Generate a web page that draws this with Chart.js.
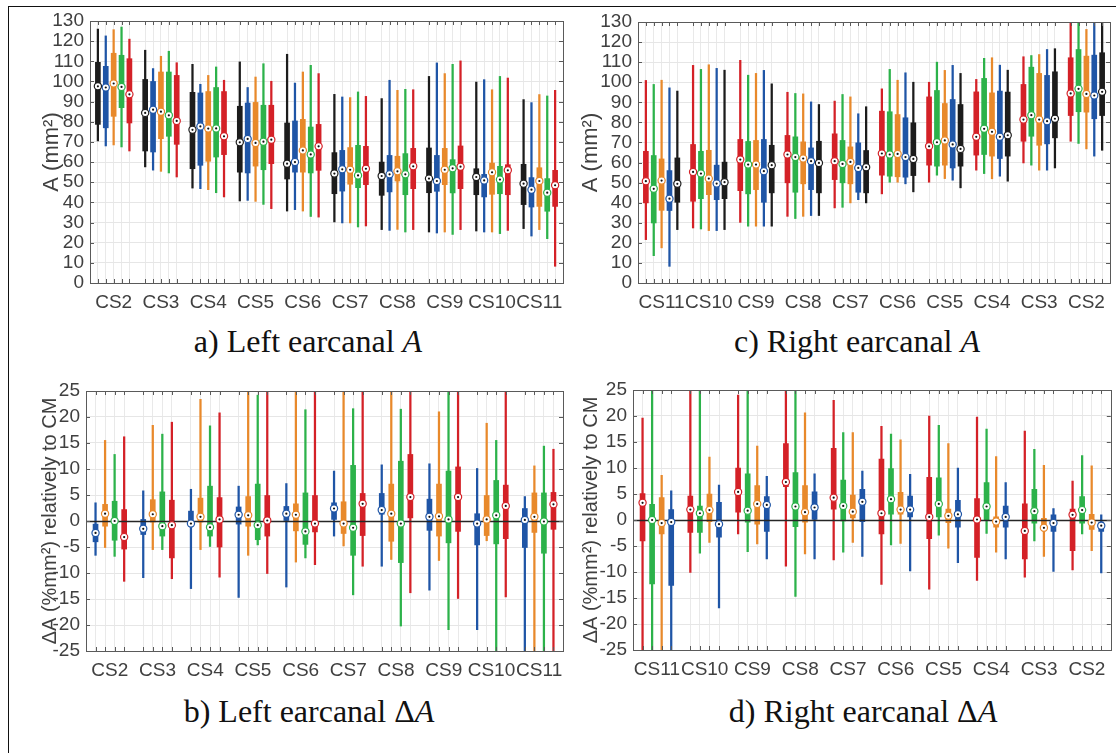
<!DOCTYPE html>
<html>
<head>
<meta charset="utf-8">
<script src="https://cdn.jsdelivr.net/npm/chart.js@4.4.1/dist/chart.umd.min.js"></script>
<style>
html, body { margin: 0; padding: 0; background: #fff; }
body { width: 1116px; height: 753px; position: relative; overflow: hidden; }
#frame { position: absolute; left: 8px; top: 6px; width: 1200px; height: 800px;
  border-left: 1.5px solid #111; border-top: 1.5px solid #111; }
canvas { position: absolute; }
.cap { position: absolute; font-family: "Liberation Serif", "Times New Roman", serif;
  font-size: 32px; line-height: 1; color: #111; transform: translateX(-50%); white-space: nowrap; }
</style>
</head>
<body>
<div id="frame"></div>
<canvas id="pa" width="575" height="320" style="left:0;top:0"></canvas>
<canvas id="pc" width="568" height="320" style="left:548px;top:0"></canvas>
<canvas id="pb" width="575" height="320" style="left:0;top:370px"></canvas>
<canvas id="pd" width="568" height="320" style="left:548px;top:370px"></canvas>
<div class="cap" style="left:308px;top:325px">a) Left earcanal <i>A</i></div>
<div class="cap" style="left:857px;top:325px">c) Right earcanal <i>A</i></div>
<div class="cap" style="left:309px;top:695px">b) Left earcanal Δ<i>A</i></div>
<div class="cap" style="left:863px;top:695px">d) Right earcanal Δ<i>A</i></div>
<script>
// groupes (ordre d'affichage)
const leftGroups = ['CS2', 'CS3', 'CS4', 'CS5', 'CS6', 'CS7', 'CS8', 'CS9', 'CS10', 'CS11'];
const rightGroups = ['CS11', 'CS10', 'CS9', 'CS8', 'CS7', 'CS6', 'CS5', 'CS4', 'CS3', 'CS2'];

// chaque boite : [moustache basse, q1, mediane, q3, moustache haute]
// a) Left earcanal A
const aBlack = [[70.5,78.7,97.6,109.5,126],[57.6,65.5,84.4,101,115.5],[47.1,56.7,76,94.6,108.5],[40.7,55,69.8,87.7,109.7],[35.7,51.6,59.2,79.4,113.5],[30.3,44.3,54.3,64.7,93.6],[26.5,43.5,53.1,60,91.5],[25.3,44.8,51.8,67,102.5],[25.8,43.8,52.6,56.7,99.7],[27,38.9,49.3,58.9,91]];
const aBlue = [[68,77,97,107.5,122.6],[56,65,86,100,106.4],[46.8,58.4,77.7,94.3,98.6],[41,54.6,71.5,89.3,97],[36.4,55,60,80.4,99.2],[29.8,45.6,56.4,65.8,92.3],[26.1,45.2,53.9,63.3,100.6],[24.8,45.5,50.6,63.3,109.2],[25.3,42.7,50.9,53.9,100.9],[23.3,37.7,46.3,52.3,89.5]];
const aOrange = [[68.5,82.7,99,114,125.7],[55.4,71.6,85,104.7,112.5],[46.3,60.4,76.6,95,103],[40.5,58,69.5,89.6,102.2],[35.7,55,65.8,81.2,104.7],[29.8,49,56.2,67.2,92],[26.6,50.6,55.4,62.9,95.6],[25.3,48.8,56.2,66.8,103.9],[25.3,44,54.9,59.5,95.9],[26.5,38,50.6,57.2,93.5]];
const aGreen = [[67.5,87,97.3,113,127],[54.6,72.8,83.2,104.7,115],[44.8,62.5,76.7,97,107.2],[39,56.2,70.1,88.2,108.8],[33,54.6,63.8,77.4,108],[27.8,47.3,53.4,68.3,94.8],[25.3,43.8,53.9,64.2,96.1],[24.1,44.7,56.9,61.2,108.5],[24.5,44.3,51.3,57.9,102.5],[22,35.6,44.8,51.8,92.8]];
const aRed = [[65.5,79.4,93.6,111.3,121],[52.6,68.8,80.4,103,109.3],[42.7,63.7,72.8,95,100.6],[36.9,59.2,71.1,88.2,100.1],[32.7,55.9,67.8,78.7,103.9],[28.3,48.8,56.7,67.8,92.6],[26.5,46.8,57.9,66.8,95.9],[26.5,46.8,57.7,68,110.2],[26.1,43.8,55.9,58.7,101.7],[8.3,38,48.5,55.9,95.6]];

// c) Right earcanal A (CS11 -> CS2)
const cRed = [[21.6,39.9,50.7,65.6,100.9],[27.4,40.7,55.3,69,108.4],[30.2,46,61.5,71.5,110.9],[33.2,49.9,64,73.5,95],[37.4,51.5,60.7,74.3,90.6],[44.4,53.7,64.5,85.6,96.7],[50.2,58.7,68.1,92.7,100],[56.2,63.7,72.8,95.2,101.4],[59.8,70.6,81.4,98.9,112.7],[70.6,83.4,94.4,112.2,135]];
const cGreen = [[13.6,29.9,46.9,63.5,98.9],[26.9,42,54.5,65.6,106.4],[28.3,44.4,59,70.5,103.5],[32.1,45.2,62.7,72.8,94.4],[37.7,49.9,59.3,71,93.9],[50.2,53.2,64,85.3,106.4],[53.7,58.2,70.1,95.9,110],[54.5,64,76.8,101.9,111.9],[58.7,73.1,83.6,107.5,113.3],[69.5,85.3,96.7,116.3,135]];
const cOrange = [[17.5,36.2,51,61.8,101],[26.1,44,52,66.1,108.7],[28.3,46.5,59,71,104.4],[33.2,49.4,62,70.3,94.2],[39.9,49.4,60.3,67.8,92.7],[50.2,52.9,64.3,83.9,101],[52,58.7,71,89.4,105.9],[51.9,63.2,75.3,94.7,112.2],[56.2,68.6,81.4,104.4,113.8],[66.8,85.1,94.2,113,126.3]];
const cBlue = [[8.3,36.1,42,56,97.2],[26.1,41.5,49.5,58.7,106.9],[28.3,40.2,55.7,71.5,105.9],[33.6,46.5,60.7,67.3,90.2],[41.5,45.2,57.3,69.8,84.3],[49.4,52.7,62.7,82.3,104.7],[51.2,57.3,69,91.4,108.4],[53.2,62,72.8,95.6,108.5],[56.2,69.3,80.6,103.4,116.3],[63.2,81.8,93.4,113.5,135]];
const cBlack = [[26.6,40.2,49.4,62.3,95.6],[26.6,42,50.2,60.2,106],[28.3,44.9,58.7,68.6,99.2],[33.6,44.9,59.8,70.6,88.9],[39.9,44.9,57.7,66,87.8],[45.4,53.5,61.8,79.8,100],[47.4,58.2,66.8,88.9,104.4],[50.7,63.2,73.6,95.1,106],[57.3,72.3,81.8,105.2,116.7],[66.1,83.4,95.2,114.7,135]];

// b) Left earcanal dA
const bBlue = [[-6.6,-4,-2.3,-0.6,3.5],[-10.9,-2.6,-1.5,0.3,5.8],[-13,-0.8,-0.5,1.9,6.1],[-14.7,-0.6,1.2,2.7,6.7],[-12.7,0,1.4,2.8,7.2],[-2.9,0.3,2.4,3.5,9.6],[-8.7,1.3,2.1,5.3,10.8],[-13.3,-1.8,0.8,4.2,11],[-20.9,-4.6,-0.5,1.4,10.1],[-27,-5.1,0.2,2.4,4.7]];
const bOrange = [[-5.1,-1,1.4,3.2,15.5],[-5.5,-0.2,1.3,4.1,18.4],[-5.5,-0.2,0.8,4.4,23.4],[-6.6,-1,1.1,4.7,27],[-7.9,-1.9,1.2,3.3,27],[-4.8,-2.4,-0.5,3.7,27],[-7.4,-3.9,1.4,7.1,27],[-7.6,-2.9,0.9,7.1,21],[-3.8,-2.8,0.3,4.9,18.8],[-27,-2.2,0.8,5.4,10.6]];
const bGreen = [[-6.8,-3.7,0,3.8,12.8],[-5.5,-2.9,-1,5.6,16.7],[-4.9,-2.9,-1.2,6.7,18.3],[-4.6,-3.6,-0.8,7.1,24.2],[-7.1,-4.5,-2,5.4,21.4],[-14.2,-6.6,-1.3,10.7,21.6],[-20.2,-8,-0.5,11.5,21.5],[-20.9,-4.2,0.3,9.6,27],[-27,-4.4,1.1,7.8,15.5],[-27,-6.2,-0.1,5.4,14.4]];
const bRed = [[-11.6,-5.4,-3.1,2.2,16.2],[-11.1,-7.1,-0.8,4,19],[-10.8,-5,0.3,4.5,20.8],[-10.1,-2.9,0.1,4.9,27],[-8.4,-2.1,-0.5,4.9,27],[-8.7,-2.8,3.3,5.3,27],[-13.8,0.6,4.6,12.8,27],[-14.9,-2,4.6,10.4,27],[-14.6,-3.4,2.9,6.9,27],[-27,-1.6,3.2,5.5,13.8]];

// d) Right earcanal dA (CS11 -> CS2)
const dRed = [[-27,-4,3.3,5.1,19.6],[-10.1,-2.4,2,4.6,27],[-2.7,1.5,5.4,10,24],[-8.9,6.4,7.3,14.7,27],[-7.7,2.1,4.3,13.8,23],[-12.4,-2.7,1.3,11.7,18],[-13.3,-3.6,0.6,8.2,20],[-11.6,-7.2,0.1,4.1,19.8],[-11,-7.5,-2.1,3.1,17.1],[-9.6,-5.9,1,2.1,7.5]];
const dGreen = [[-27,-12.3,0,3,27],[-6.4,-2.4,1.3,2.7,27],[-6.1,-0.4,1.8,8.9,27],[-14.7,-1.3,2.6,9.1,27],[-6.2,-0.2,2.7,7.7,16.8],[-4.8,1.1,4,9.9,16.5],[-2.9,0.6,3.1,8.1,18.2],[-2.6,-0.1,2.6,7.2,17.5],[-4,-0.6,1.7,5.9,13.6],[-2.7,-0.6,1.9,4.5,12.4]];
const dOrange = [[-27,-2.7,-0.6,4.3,8.6],[-4.3,-0.3,1.9,5,12.1],[-4.6,-0.8,3.1,6.6,14.2],[-6.5,-0.4,1.5,6.6,20.6],[-4.3,0.4,1.6,4.8,16.8],[-4.5,1.1,2,5.3,15.4],[-5.4,-0.5,0.8,2.1,14.7],[-6.2,-1.4,-0.3,0.6,12.2],[-7,-1.8,-1.5,0.3,10.5],[-5.9,-1.8,-0.5,1.1,10.4]];
const dBlue = [[-27,-12.6,-0.4,2,5.6],[-16.9,-3.3,-0.8,3.4,6.7],[-7.5,-2.2,2.9,4.5,8.4],[-7.5,0.1,2.4,5.4,8.9],[-7,-0.3,3.5,5.9,9.4],[-9.8,0.6,2,4.6,8.8],[-8.2,-1.4,1.1,3.8,10],[-7.5,-1.4,0.6,2.7,7.2],[-9.9,-2.2,-0.6,1,2.2],[-10.2,-2.2,-1.1,-0.4,1]];

const BLACK = '#1c1c1c', BLUE = '#1f55a6', ORANGE = '#e8892b', GREEN = '#2cb24a', RED = '#d42127';
const FONT = '"Liberation Sans", Arial, Helvetica, sans-serif';
const TXT = '#404040';

// cadre + graduations vers l'interieur + ligne zero
const framePlugin = {
  id: 'frame',
  beforeDatasetsDraw(chart, args, opts) { chart.$zeroTodo = !!opts.zero; },
  beforeDatasetDraw(chart, args) {
    const d = chart.data.datasets[args.index];
    if (d.kind === 'median' && chart.$zeroTodo) {
      chart.$zeroTodo = false;
      const { ctx, chartArea: a } = chart;
      const y = Math.round(chart.scales.y.getPixelForValue(0)) + 0.5;
      ctx.save();
      ctx.strokeStyle = '#262626';
      ctx.lineWidth = 1.3;
      ctx.beginPath(); ctx.moveTo(a.left, y); ctx.lineTo(a.right, y); ctx.stroke();
      ctx.restore();
    }
  },
  afterDatasetsDraw(chart) {
    const { ctx, chartArea: a, scales } = chart;
    ctx.save();
    ctx.strokeStyle = '#5a5a5a';
    ctx.lineWidth = 1;
    ctx.beginPath();
    scales.x.ticks.forEach(t => {
      const x = Math.round(scales.x.getPixelForValue(t.value)) + 0.5;
      ctx.moveTo(x, a.bottom); ctx.lineTo(x, a.bottom - 4);
      ctx.moveTo(x, a.top); ctx.lineTo(x, a.top + 4);
    });
    scales.y.ticks.forEach(t => {
      const y = Math.round(scales.y.getPixelForValue(t.value)) + 0.5;
      ctx.moveTo(a.left, y); ctx.lineTo(a.left + 4, y);
      ctx.moveTo(a.right, y); ctx.lineTo(a.right - 4, y);
    });
    ctx.stroke();
    ctx.strokeRect(Math.round(a.left) + 0.5, Math.round(a.top) + 0.5,
      Math.round(a.right - a.left), Math.round(a.bottom - a.top));
    ctx.restore();
  }
};

function boxDatasets(series, colors) {
  const n = series.length, ds = [];
  series.forEach((s, k) => {
    const c = colors[k];
    const xs = s.map((v, g) => g * (n + 1) + k + 1);
    ds.push({ type: 'bar', kind: 'whisker', data: s.map((v, g) => ({ x: xs[g], y: [v[0], v[4]] })),
      backgroundColor: c, barThickness: 1.6, grouped: false, order: 4 });
    ds.push({ type: 'bar', kind: 'box', data: s.map((v, g) => ({ x: xs[g], y: [v[1], v[3]] })),
      backgroundColor: c, barThickness: 5, grouped: false, order: 3 });
    ds.push({ type: 'scatter', kind: 'median', data: s.map((v, g) => ({ x: xs[g], y: v[2] })),
      pointRadius: 3.6, pointBackgroundColor: '#fff', pointBorderColor: c, pointBorderWidth: 1.2, order: 2 });
    ds.push({ type: 'scatter', kind: 'dot', data: s.map((v, g) => ({ x: xs[g], y: v[2] })),
      pointRadius: 1.1, pointBackgroundColor: '#111', pointBorderWidth: 0, order: 1 });
  });
  return ds;
}

function makePanel(id, p) {
  const n = p.series.length;
  const total = p.groups.length * (n + 1);
  const slots = [], centers = [];
  p.groups.forEach((g, gi) => {
    for (let k = 0; k < n; k++) slots.push(gi * (n + 1) + k + 1);
    centers.push(gi * (n + 1) + (n + 1) / 2);
  });
  new Chart(document.getElementById(id), {
    type: 'bar',
    data: { datasets: boxDatasets(p.series, p.colors) },
    plugins: [framePlugin],
    options: {
      responsive: false,
      animation: false,
      events: [],
      layout: { padding: { top: p.padTop, right: p.padRight, left: 0, bottom: 0 } },
      plugins: { legend: { display: false }, tooltip: { enabled: false }, frame: { zero: p.zero } },
      scales: {
        x: {
          type: 'linear', min: 0, max: total, offset: false,
          ticks: { display: false },
          grid: { color: '#e9e9e9', lineWidth: 1, drawTicks: false, offset: false },
          border: { display: false },
          afterBuildTicks: s => { s.ticks = slots.map(v => ({ value: v })); },
          afterFit: s => { s.height = 0; }
        },
        xl: {
          type: 'linear', position: 'bottom', min: 0, max: total, offset: false,
          grid: { display: false, offset: false },
          border: { display: false },
          ticks: { autoSkip: false, maxRotation: 0, minRotation: 0, padding: p.labelPad,
            font: { family: FONT, size: 19 }, color: TXT,
            callback: (v, i) => p.groups[i] },
          afterBuildTicks: s => { s.ticks = centers.map(v => ({ value: v })); },
          afterFit: s => { s.height = p.bottomH; }
        },
        y: {
          min: p.yMin, max: p.yMax,
          ticks: { stepSize: p.step, autoSkip: false, padding: 6, font: { family: FONT, size: 19 }, color: TXT },
          grid: { color: '#e6e6e6', lineWidth: 1, drawTicks: false },
          border: { display: false },
          title: { display: true, text: p.yTitle, color: TXT,
            font: { family: FONT, size: p.titleSize }, padding: { top: p.titlePad, bottom: 0 } },
          afterFit: s => { s.width = p.leftW; }
        }
      }
    }
  });
}

makePanel('pa', { groups: leftGroups, series: [aBlack, aBlue, aOrange, aGreen, aRed],
  colors: [BLACK, BLUE, ORANGE, GREEN, RED], yMin: 0, yMax: 130, step: 10, yTitle: 'A (mm²)',
  leftW: 90, padTop: 21, padRight: 12, bottomH: 37, titlePad: 39, titleSize: 22, labelPad: 0, zero: false });
makePanel('pc', { groups: rightGroups, series: [cRed, cGreen, cOrange, cBlue, cBlack],
  colors: [RED, GREEN, ORANGE, BLUE, BLACK], yMin: 0, yMax: 130, step: 10, yTitle: 'A (mm²)',
  leftW: 90, padTop: 22, padRight: 6, bottomH: 37, titlePad: 30, titleSize: 22, labelPad: 0, zero: false });
makePanel('pb', { groups: leftGroups, series: [bBlue, bOrange, bGreen, bRed],
  colors: [BLUE, ORANGE, GREEN, RED], yMin: -25, yMax: 25, step: 5, yTitle: 'ΔA (%mm²) relatively to CM',
  leftW: 86, padTop: 21, padRight: 12, bottomH: 39, titlePad: 38, titleSize: 20, labelPad: 0, zero: true });
makePanel('pd', { groups: rightGroups, series: [dRed, dGreen, dOrange, dBlue],
  colors: [RED, GREEN, ORANGE, BLUE], yMin: -25, yMax: 25, step: 5, yTitle: 'ΔA (%mm²) relatively to CM',
  leftW: 85, padTop: 20, padRight: 5, bottomH: 40, titlePad: 31, titleSize: 20, labelPad: 0, zero: true });
</script>
</body>
</html>
